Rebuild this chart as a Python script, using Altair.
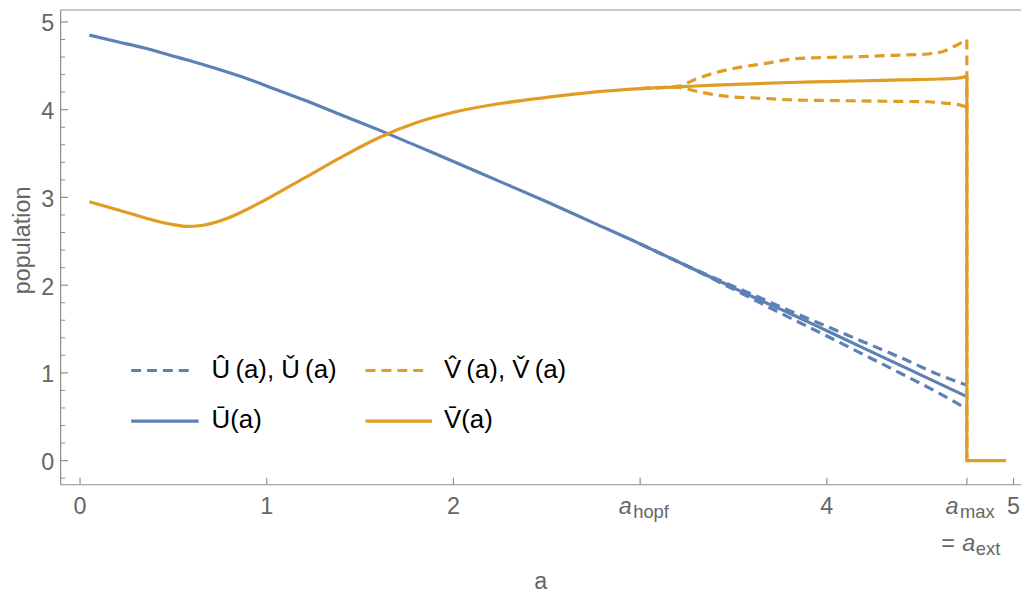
import altair as alt
import pandas as pd

# ---------------- data ----------------
A_BAR = [0.05, 0.2, 0.35, 0.5, 0.57, 0.65, 0.8, 0.9, 1.0, 1.2, 1.4, 1.6, 1.8, 2.0,
         2.25, 2.5, 2.75, 3.0, 3.2, 3.4, 3.6, 3.8, 4.0, 4.2, 4.4, 4.6, 4.7, 4.75]
U_BAR = [4.85, 4.775, 4.70, 4.61, 4.57, 4.52, 4.42, 4.35, 4.27, 4.11, 3.94, 3.77, 3.59, 3.41,
         3.18, 2.95, 2.71, 2.47, 2.27, 2.07, 1.87, 1.68, 1.48, 1.28, 1.08, 0.88, 0.78, 0.73]
V_BAR = [2.95, 2.86, 2.765, 2.69, 2.67, 2.68, 2.77, 2.87, 2.98, 3.22, 3.46, 3.68, 3.85, 3.97,
         4.07, 4.14, 4.20, 4.24, 4.26, 4.28, 4.295, 4.31, 4.32, 4.33, 4.34, 4.35, 4.36, 4.38]
# extinction at a_max: drop to zero and stay at zero
A_EXT = [4.75, 4.75, 4.96]
V_EXT = [4.38, 0.0, 0.0]

A_UD = [3.0, 3.2, 3.4, 3.6, 3.8, 4.0, 4.2, 4.4, 4.6, 4.75]
U_HAT = [2.47, 2.27, 2.08, 1.895, 1.71, 1.53, 1.35, 1.17, 0.98, 0.86]
U_CHK = [2.47, 2.27, 2.06, 1.845, 1.63, 1.42, 1.205, 0.99, 0.77, 0.59]

A_VD = [3.0, 3.1, 3.2, 3.3, 3.4, 3.5, 3.65, 3.83, 4.0, 4.18, 4.36, 4.54, 4.63, 4.7, 4.75]
V_HAT = [4.24, 4.25, 4.265, 4.35, 4.42, 4.47, 4.52, 4.58, 4.595, 4.605, 4.62, 4.635, 4.67, 4.74, 4.80]
V_CHK = [4.24, 4.25, 4.255, 4.21, 4.17, 4.145, 4.13, 4.11, 4.105, 4.10, 4.095, 4.09, 4.075, 4.06, 4.03]
A_VD_DROP = [4.75, 4.75]
V_HAT_DROP = [4.80, 0.0]

X_TICKS = [0, 1, 2, 3, 4, 4.75, 5]
X_LABELED = [0, 1, 2, 4, 5]
Y_TICKS = [0, 1, 2, 3, 4, 5]
Y_MINOR = [-0.2, 0.2, 0.4, 0.6, 0.8, 1.2, 1.4, 1.6, 1.8, 2.2, 2.4, 2.6, 2.8,
           3.2, 3.4, 3.6, 3.8, 4.2, 4.4, 4.6, 4.8]
A_HOPF = 3.0
A_MAX = 4.75

X_TITLE = "a"
Y_TITLE = "population"
LEG_U_DASH = "Û\u2009(a),  Ǔ\u2009(a)"
LEG_V_DASH = "V\u0302\u2009(a),  V\u030C\u2009(a)"
LEG_U_BAR = "Ū(a)"
LEG_V_BAR = "V\u0304(a)"

# ---------------- styling ----------------
W, H = 967, 478
BLUE = "#5E81B5"
ORANGE = "#E19C24"
AXC = "#8f8f8f"
LBL = "#666666"
FONT = "Liberation Sans"
DASH = [10, 6]
LW = 3.2
TICK_FS = 23.5
SUB_FS = 18.5
LEG_FS = 26

xs = alt.Scale(domain=[-0.104, 5.04], nice=False, zero=False)
ys = alt.Scale(domain=[-0.275, 5.136], nice=False, zero=False)


def df(xv, yv):
    return pd.DataFrame({"a": xv, "v": yv, "i": list(range(len(xv)))})


def line(xv, yv, color, dash=None, smooth=True):
    kw = dict(color=color, strokeWidth=LW, clip=True, strokeCap="butt",
              interpolate="monotone" if smooth else "linear")
    if dash:
        kw["strokeDash"] = dash
    return alt.Chart(df(xv, yv)).mark_line(**kw).encode(
        x=alt.X("a:Q", scale=xs, axis=None),
        y=alt.Y("v:Q", scale=ys, axis=None),
        order="i:Q",
    )


one = pd.DataFrame({"z": [0]})


def prule(**enc):
    return alt.Chart(one).mark_rule(color=AXC, strokeWidth=1.2).encode(**enc)


frame = [
    prule(x=alt.value(0), x2=alt.value(W), y=alt.value(0)),
    prule(x=alt.value(0), x2=alt.value(W), y=alt.value(H)),
    prule(x=alt.value(0), y=alt.value(0), y2=alt.value(H)),
]

xt = alt.Chart(pd.DataFrame({"t": X_TICKS})).mark_rule(color=AXC, strokeWidth=1.2).encode(
    x=alt.X("t:Q", scale=xs, axis=None), y=alt.value(H), y2=alt.value(H - 7))
yt = alt.Chart(pd.DataFrame({"t": Y_TICKS})).mark_rule(color=AXC, strokeWidth=1.2).encode(
    y=alt.Y("t:Q", scale=ys, axis=None), x=alt.value(0), x2=alt.value(7.5))
ym = alt.Chart(pd.DataFrame({"t": Y_MINOR})).mark_rule(color=AXC, strokeWidth=1).encode(
    y=alt.Y("t:Q", scale=ys, axis=None), x=alt.value(0), x2=alt.value(4.5))

xl = alt.Chart(pd.DataFrame({"t": X_LABELED, "s": [str(v) for v in X_LABELED]})).mark_text(
    font=FONT, fontSize=TICK_FS, color=LBL, align="center", baseline="alphabetic").encode(
    x=alt.X("t:Q", scale=xs, axis=None), y=alt.value(H + 29), text="s:N")
yl = alt.Chart(pd.DataFrame({"t": Y_TICKS, "s": [str(v) for v in Y_TICKS]})).mark_text(
    font=FONT, fontSize=TICK_FS, color=LBL, align="right", baseline="middle", dy=2.5).encode(
    y=alt.Y("t:Q", scale=ys, axis=None), x=alt.value(-6.5), text="s:N")

xtitle = alt.Chart(one).mark_text(text=X_TITLE, font=FONT, fontSize=TICK_FS, color=LBL,
                                  align="center", baseline="alphabetic").encode(
    x=alt.value(W / 2), y=alt.value(H + 105))
ytitle = alt.Chart(one).mark_text(text=Y_TITLE, font=FONT, fontSize=TICK_FS, color=LBL,
                                  align="center", baseline="alphabetic", angle=270).encode(
    x=alt.value(-31), y=alt.value(232))

curves = [
    line(A_BAR, U_BAR, BLUE),
    line(A_UD, U_HAT, BLUE, DASH),
    line(A_UD, U_CHK, BLUE, DASH),
    line(A_VD, V_HAT, ORANGE, DASH),
    line(A_VD_DROP, V_HAT_DROP, ORANGE, DASH, smooth=False),
    line(A_VD, V_CHK, ORANGE, DASH),
    line(A_BAR, V_BAR, ORANGE),
    line(A_EXT, V_EXT, ORANGE, smooth=False),
]


def xlabel(pos, text, dx, dy, size, italic=False, align="center"):
    kw = dict(text=text, dx=dx, fontSize=size, font=FONT, color=LBL,
              align=align, baseline="alphabetic")
    if italic:
        kw["fontStyle"] = "italic"
    return alt.Chart(pd.DataFrame({"t": [pos]})).mark_text(**kw).encode(
        x=alt.X("t:Q", scale=xs, axis=None), y=alt.value(H + dy))


special = [
    xlabel(A_HOPF, "a", -15, 29, TICK_FS, italic=True),
    xlabel(A_HOPF, "hopf", -7, 33, SUB_FS, align="left"),
    xlabel(A_MAX, "a", -15, 29, TICK_FS, italic=True),
    xlabel(A_MAX, "max", -7, 33, SUB_FS, align="left"),
    xlabel(A_MAX, "=", -19, 67, TICK_FS),
    xlabel(A_MAX, "a", 2, 67, TICK_FS, italic=True),
    xlabel(A_MAX, "ext", 9, 71, SUB_FS, align="left"),
]


def leg_line(x1, x2, y, color, dash=None):
    kw = dict(color=color, strokeWidth=LW, strokeCap="butt")
    if dash:
        kw["strokeDash"] = dash
    return alt.Chart(one).mark_rule(**kw).encode(
        x=alt.value(x1), x2=alt.value(x2), y=alt.value(y))


def leg_text(x, y, text):
    return alt.Chart(one).mark_text(text=text, font=FONT, fontSize=LEG_FS, color="black",
                                    align="left", baseline="alphabetic").encode(
        x=alt.value(x), y=alt.value(y))


legend = [
    leg_line(71, 134, 363, BLUE, DASH), leg_text(152, 371, LEG_U_DASH),
    leg_line(71, 139, 414, BLUE), leg_text(152, 421, LEG_U_BAR),
    leg_line(307, 369, 363, ORANGE, DASH), leg_text(386, 371, LEG_V_DASH),
    leg_line(307, 374, 414, ORANGE), leg_text(386, 421, LEG_V_BAR),
]

chart = alt.layer(*frame, xt, yt, ym, *curves, xl, yl, xtitle, ytitle, *special, *legend).properties(
    width=W, height=H,
    autosize=alt.AutoSizeParams(type="none"),
    padding={"left": 53, "top": 0, "right": 0, "bottom": 110},
    background="white",
).configure_view(stroke=None)

chart.save("out.html", embed_options={"renderer": "svg", "actions": False})
